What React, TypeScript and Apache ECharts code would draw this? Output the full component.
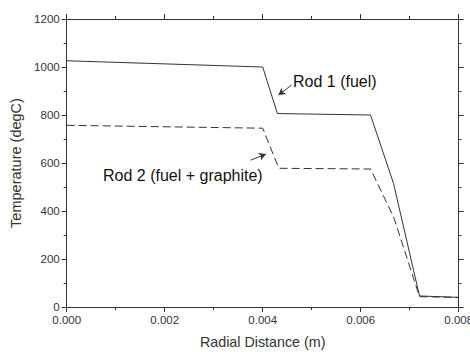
import React, { useEffect, useRef } from "react";
import * as echarts from "echarts";

const rod1X = [0, 0.004, 0.0043, 0.0062, 0.00667, 0.0072, 0.008];
const rod1Y = [1026, 1000, 806, 800, 515, 46, 40];
const rod2X = [0, 0.004, 0.00433, 0.0062, 0.00667, 0.0072, 0.008];
const rod2Y = [757, 745, 578, 575, 376, 43, 40];
const xTicks = [0, 0.002, 0.004, 0.006, 0.008];
const yTicks = [0, 200, 400, 600, 800, 1000, 1200];
const labels = ["Rod 1 (fuel)", "Rod 2 (fuel + graphite)"];
const arrow1 = [[0.00459, 925], [0.00432, 883]];
const arrow2 = [[0.003755, 612], [0.004067, 637]];

const C = "#333";
const FONT = "Arial, 'Liberation Sans', sans-serif";

export default function App() {
  const ref = useRef<HTMLDivElement>(null);
  useEffect(() => {
    const chart = echarts.init(ref.current!, undefined, { renderer: "svg" });
    const axisCommon = {
      axisLine: { show: true, onZero: false, lineStyle: { color: C, width: 1 } },
      axisTick: { show: true, inside: false, length: 5, lineStyle: { color: C } },
      minorTick: { show: true, splitNumber: 2, length: 3, lineStyle: { color: C } },
      splitLine: { show: false },
    };
    const mk = (pts: number[][]) => ({
      silent: true,
      symbol: ["none", "arrow"],
      symbolSize: [6, 7],
      label: { show: false },
      lineStyle: { color: C, width: 1, type: "solid" },
      data: [[{ coord: pts[0] }, { coord: pts[1] }]],
    });
    chart.setOption({
      animation: false,
      backgroundColor: "#fff",
      grid: {
        left: 66.7,
        right: 11.3,
        top: 19,
        bottom: 45,
        outerBoundsMode: "none",
        containLabel: false,
      },
      xAxis: [
        {
          ...axisCommon,
          type: "value",
          min: xTicks[0],
          max: xTicks[xTicks.length - 1],
          interval: 0.002,
          position: "bottom",
          name: "Radial Distance (m)",
          nameLocation: "middle",
          nameGap: 28,
          nameTextStyle: { color: C, fontSize: 14.3, fontFamily: FONT },
          axisLabel: {
            color: C,
            fontSize: 11.5,
            fontFamily: FONT,
            margin: 7,
            formatter: (v: number) => v.toFixed(3),
          },
        },
        {
          ...axisCommon,
          type: "value",
          min: xTicks[0],
          max: xTicks[xTicks.length - 1],
          interval: 0.002,
          position: "top",
          axisLabel: { show: false },
        },
      ],
      yAxis: [
        {
          ...axisCommon,
          type: "value",
          min: yTicks[0],
          max: yTicks[yTicks.length - 1],
          interval: 200,
          position: "left",
          name: "Temperature (degC)",
          nameLocation: "middle",
          nameGap: 43,
          nameTextStyle: { color: C, fontSize: 14.5, fontFamily: FONT },
          axisLabel: {
            color: C,
            fontSize: 11.5,
            fontFamily: FONT,
            margin: 7,
            formatter: (v: number) => String(v),
          },
        },
        {
          ...axisCommon,
          type: "value",
          min: yTicks[0],
          max: yTicks[yTicks.length - 1],
          interval: 200,
          position: "right",
          axisLabel: { show: false },
        },
      ],
      series: [
        {
          name: labels[0],
          type: "line",
          data: rod1X.map((x, i) => [x, rod1Y[i]]),
          showSymbol: false,
          symbol: "none",
          lineStyle: { color: C, width: 1 },
          markLine: mk(arrow1),
        },
        {
          name: labels[1],
          type: "line",
          data: rod2X.map((x, i) => [x, rod2Y[i]]),
          showSymbol: false,
          symbol: "none",
          lineStyle: { color: C, width: 1, type: [8, 4] },
          markLine: mk(arrow2),
        },
      ],
      graphic: [
        {
          type: "text",
          x: 293,
          y: 81,
          style: {
            text: labels[0],
            fill: "#111",
            fontSize: 16,
            fontFamily: FONT,
            textVerticalAlign: "middle",
          },
        },
        {
          type: "text",
          x: 103,
          y: 175,
          style: {
            text: labels[1],
            fill: "#111",
            fontSize: 16,
            fontFamily: FONT,
            textVerticalAlign: "middle",
          },
        },
      ],
    });
    return () => chart.dispose();
  }, []);
  return (
    <div
      ref={ref}
      style={{ position: "fixed", left: 0, top: 0, width: 470, height: 352 }}
    />
  );
}
